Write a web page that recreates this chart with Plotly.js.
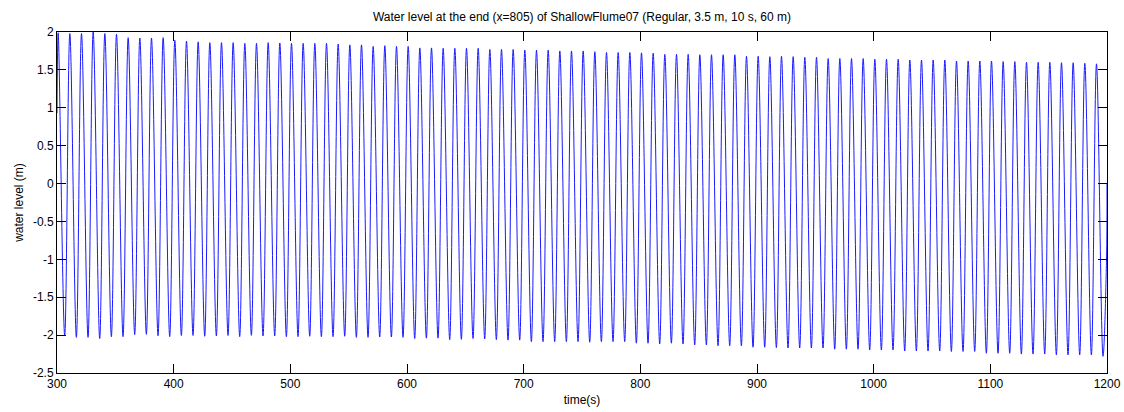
<!DOCTYPE html>
<html>
<head>
<meta charset="utf-8">
<script src="https://cdn.plot.ly/plotly-3.0.1.min.js"></script>
<style>
html,body{margin:0;padding:0;background:#fff;}
#chart{width:1124px;height:412px;}
</style>
</head>
<body>
<div id="chart"></div>
<script>
// Wave crests (time, water level)
const crestT = [301,311,321,331,341,351,361,371,381,391,401,411,421,431,441,451,461,471,481,491,
  501,511,521,531,541,551,561,571,581,591,601,611,621,631,641,651,661,671,681,691,
  701,711,721,731,741,751,761,771,781,791,801,811,821,831,841,851,861,871,881,891,
  901,911,921,931,941,951,961,971,981,991,1001,1011,1021,1031,1041,1051,1061,1071,1081,1091,
  1101,1111,1121,1131,1141,1151,1161,1171,1181,1191];
const crestY = [1.99,1.98,1.98,2.0,1.98,1.97,1.925,1.92,1.92,1.925,1.89,1.88,1.87,1.86,1.86,1.86,1.85,1.85,1.86,1.855,
  1.85,1.85,1.85,1.85,1.84,1.83,1.83,1.81,1.82,1.81,1.81,1.79,1.79,1.785,1.785,1.785,1.785,1.77,1.77,1.77,
  1.76,1.76,1.76,1.75,1.75,1.75,1.74,1.73,1.73,1.73,1.725,1.72,1.705,1.705,1.705,1.70,1.70,1.70,1.70,1.68,
  1.68,1.675,1.68,1.675,1.666,1.666,1.65,1.65,1.65,1.65,1.64,1.64,1.64,1.63,1.63,1.63,1.63,1.617,1.617,1.617,
  1.617,1.61,1.61,1.60,1.60,1.60,1.595,1.595,1.587,1.58];
// Wave troughs (time, water level)
const troughT = [306.6,316.6,326.6,336.6,346.6,356.6,366.6,376.6,386.6,396.6,406.6,416.6,426.6,436.6,446.6,456.6,466.6,476.6,486.6,496.6,
  506.6,516.6,526.6,536.6,546.6,556.6,566.6,576.6,586.6,596.6,606.6,616.6,626.6,636.6,646.6,656.6,666.6,676.6,686.6,696.6,
  706.6,716.6,726.6,736.6,746.6,756.6,766.6,776.6,786.6,796.6,806.6,816.6,826.6,836.6,846.6,856.6,866.6,876.6,886.6,896.6,
  906.6,916.6,926.6,936.6,946.6,956.6,966.6,976.6,986.6,996.6,1006.6,1016.6,1026.6,1036.6,1046.6,1056.6,1066.6,1076.6,1086.6,1096.6,
  1106.6,1116.6,1126.6,1136.6,1146.6,1156.6,1166.6,1176.6,1186.6,1196.6];
const troughY = [-2.01,-2.03,-2.03,-2.046,-2.02,-2.02,-1.993,-1.99,-2.008,-2.02,-2.005,-2.005,-2.015,-2.01,-2.005,-2.02,-2.003,-2.01,-2.01,-2.02,
  -2.02,-2.015,-2.02,-2.02,-2.015,-2.03,-2.03,-2.025,-2.025,-2.03,-2.045,-2.04,-2.04,-2.06,-2.056,-2.045,-2.05,-2.06,-2.066,-2.066,
  -2.086,-2.086,-2.086,-2.086,-2.086,-2.094,-2.086,-2.086,-2.086,-2.107,-2.107,-2.116,-2.107,-2.116,-2.13,-2.13,-2.14,-2.14,-2.14,-2.16,
  -2.16,-2.165,-2.17,-2.17,-2.17,-2.17,-2.186,-2.186,-2.186,-2.195,-2.195,-2.195,-2.21,-2.21,-2.21,-2.21,-2.216,-2.216,-2.216,-2.24,
  -2.24,-2.24,-2.25,-2.25,-2.25,-2.26,-2.26,-2.26,-2.26,-2.28];
// Record start and end samples
const startT = [300];
const startY = [0.93];
const endT = [1199.6, 1200];
const endY = [-1.0, 0.0];

const xTicks = [300,400,500,600,700,800,900,1000,1100,1200];
const yTicks = [-2.5,-2,-1.5,-1,-0.5,0,0.5,1,1.5,2];
const yTickText = ['-2.5','-2','-1.5','-1','-0.5','0','0.5','1','1.5','2'];

const xs = [...startT], ys = [...startY];
for (let i = 0; i < crestT.length; i++) {
  xs.push(crestT[i]); ys.push(crestY[i]);
  xs.push(troughT[i]); ys.push(troughY[i]);
}
xs.push(...endT); ys.push(...endY);

const trace = {
  x: xs, y: ys, type: 'scatter', mode: 'lines',
  line: {color: '#1a1aff', width: 1, shape: 'spline', smoothing: 1},
  hoverinfo: 'skip'
};

const FONT = 'Liberation Sans, Arial, sans-serif';
const axisCommon = {
  showgrid: false, zeroline: false, showline: true, mirror: 'ticks',
  linecolor: '#000', linewidth: 1, ticks: 'inside', ticklen: 9, tickcolor: '#000', tickwidth: 1,
  tickfont: {family: FONT, size: 12, color: '#000'}
};

const layout = {
  width: 1124, height: 412,
  margin: {l: 57, r: 17, t: 32, b: 39},
  paper_bgcolor: '#fff', plot_bgcolor: '#fff',
  showlegend: false,
  title: {text: 'Water level at the end (x=805) of ShallowFlume07 (Regular, 3.5 m, 10 s, 60 m)',
    font: {family: FONT, size: 12, color: '#000'},
    x: 0.5, xref: 'paper', y: 1, yref: 'paper', yanchor: 'bottom', pad: {b: 11}},
  xaxis: Object.assign({}, axisCommon, {
    range: [300, 1200], tickvals: xTicks, ticktext: xTicks.map(String),
    title: {text: 'time(s)', font: {family: FONT, size: 12, color: '#000'}, standoff: 5}
  }),
  yaxis: Object.assign({}, axisCommon, {
    range: [-2.5, 2], tickvals: yTicks, ticktext: yTickText,
    title: {text: 'water level (m)', font: {family: FONT, size: 12, color: '#000'}, standoff: 6}
  })
};

Plotly.newPlot('chart', [trace], layout, {staticPlot: true, displayModeBar: false});
</script>
</body>
</html>
